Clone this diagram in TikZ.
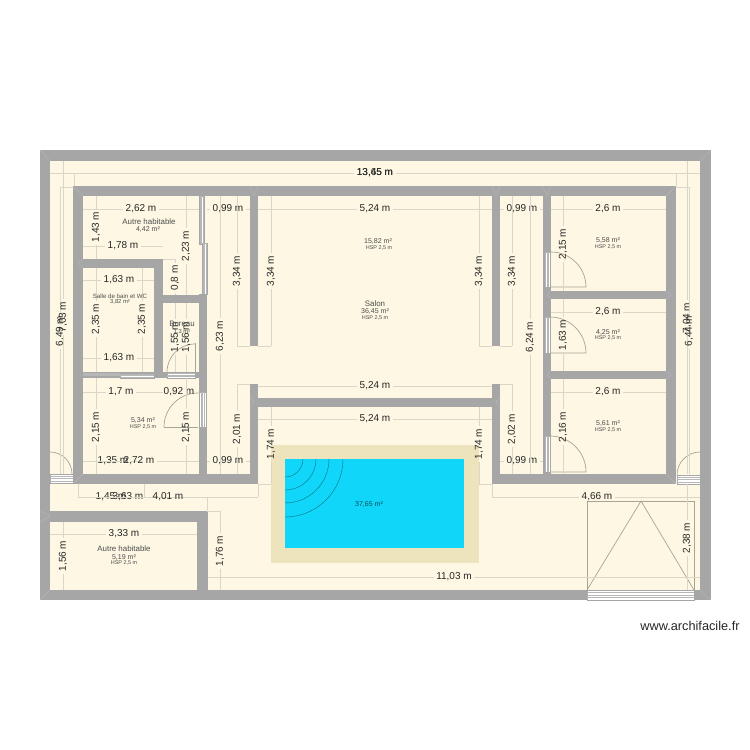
\documentclass[tikz,border=0pt]{standalone}
\usepackage{fontspec}
\setmainfont{Liberation Sans}
\usepackage{xcolor}
\usepackage{tikz}
\definecolor{wallgray}{HTML}{A6A6A6}
\definecolor{wallmark}{HTML}{B6B6B6}
\definecolor{floorcream}{HTML}{FDF7E3}
\definecolor{dimgray}{HTML}{DAD7C8}
\definecolor{poolwater}{HTML}{10D6FA}
\definecolor{poolrim}{HTML}{EDE4BE}
\definecolor{doorgray}{HTML}{A8A498}
\tikzset{
	wall/.style={fill=wallgray, draw=none},
	wallcut/.style={draw=wallmark, line width=0.25pt},
	dimline/.style={draw=dimgray, line width=0.45pt},
	dimlabel/.style={font=\fontsize{5.7}{6}\selectfont, text=black!85, inner sep=1.3pt},
	roomname/.style={font=\fontsize{4.5}{5}\selectfont, text=black!70, inner sep=0pt},
	roomarea/.style={font=\fontsize{4}{5}\selectfont, text=black!70, inner sep=0pt},
	roomhsp/.style={font=\fontsize{3.1}{4}\selectfont, text=black!70, inner sep=0pt},
	winbox/.style={fill=white, draw=wallgray, line width=0.25pt},
	winbar/.style={draw=wallgray!80, line width=0.5pt},
	doorline/.style={draw=doorgray, line width=0.4pt},
}
\newcommand{\DimH}[6]{
	\node[dimlabel] (#1) at (#5,#4) {#6};
	\coordinate (#1-a) at (#2,#4);
	\coordinate (#1-b) at (#3,#4);
	\draw[dimline] (#1-a) -- (#1);
	\draw[dimline] (#1) -- (#1-b);
}
\newcommand{\DimV}[6]{
	\node[dimlabel, rotate=90] (#1) at (#4,#5) {#6};
	\coordinate (#1-a) at (#4,#2);
	\coordinate (#1-b) at (#4,#3);
	\draw[dimline] (#1-a) -- (#1);
	\draw[dimline] (#1) -- (#1-b);
}
\newcommand{\WinH}[4]{
	\path[winbox] (#1,#3) rectangle (#2,#4);
	\pgfmathsetmacro{\winmid}{(#3+#4)/2}
	\pgfmathsetmacro{\winlow}{(#3+\winmid)/2}
	\pgfmathsetmacro{\winupp}{(#4+\winmid)/2}
	\draw[winbar] (#1,\winmid) -- (#2,\winmid);
	\draw[wallcut] (#1,\winlow) -- (#2,\winlow);
	\draw[wallcut] (#1,\winupp) -- (#2,\winupp);
}
\newcommand{\WinV}[4]{
	\path[winbox] (#1,#3) rectangle (#2,#4);
	\pgfmathsetmacro{\winmid}{(#1+#2)/2}
	\pgfmathsetmacro{\winlow}{(#1+\winmid)/2}
	\pgfmathsetmacro{\winupp}{(#2+\winmid)/2}
	\draw[winbar] (\winmid,#3) -- (\winmid,#4);
	\draw[wallcut] (\winlow,#3) -- (\winlow,#4);
	\draw[wallcut] (\winupp,#3) -- (\winupp,#4);
}
\begin{document}
\begin{tikzpicture}[x=0.02cm, y=-0.02cm]
	\useasboundingbox (0,0) rectangle (750,750);
	\fill[wall] (40,150) rectangle (711,600);
	\fill[floorcream] (50,161) rectangle (700,590);
	\fill[wall] (73,186) rectangle (676,196);
	\fill[wall] (73,186) rectangle (83,484);
	\fill[wall] (666,186) rectangle (676,484);
	\fill[wall] (73,474) rectangle (258,484);
	\fill[wall] (492,474) rectangle (676,484);
	\fill[wall] (250,196) rectangle (258,346);
	\fill[wall] (492,196) rectangle (500,346);
	\fill[wall] (250,384) rectangle (258,484);
	\fill[wall] (492,384) rectangle (500,484);
	\fill[wall] (250,398) rectangle (500,407);
	\fill[wall] (543,196) rectangle (551,474);
	\fill[wall] (551,291) rectangle (666,299);
	\fill[wall] (551,371) rectangle (666,379);
	\fill[wall] (83,259) rectangle (163,268);
	\fill[wall] (154,259) rectangle (163,378);
	\fill[wall] (83,372) rectangle (207,378);
	\fill[wall] (199,294) rectangle (207,484);
	\fill[wall] (163,295) rectangle (207,303);
	\fill[wall] (50,511) rectangle (208,522);
	\fill[wall] (197,511) rectangle (208,590);
	\draw[wallcut] (40,150) -- (50,161);
	\draw[wallcut] (711,150) -- (700,161);
	\draw[wallcut] (40,600) -- (50,590);
	\draw[wallcut] (711,600) -- (700,590);
	\draw[wallcut] (73,186) -- (83,196);
	\draw[wallcut] (676,186) -- (666,196);
	\draw[wallcut] (73,484) -- (83,474);
	\draw[wallcut] (676,484) -- (666,474);
	\draw[wallcut] (250,186) -- (254,196) -- (258,186);
	\draw[wallcut] (492,186) -- (496,196) -- (500,186);
	\draw[wallcut] (543,186) -- (547,196) -- (551,186);
	\draw[wallcut] (40,511) -- (50,516) -- (40,522);
	\draw[wallcut] (83,259) -- (78,263) -- (83,268);
	\draw[wallcut] (666,291) -- (671,295) -- (666,299);
	\draw[wallcut] (666,371) -- (671,375) -- (666,379);
	\draw[wallcut] (551,291) -- (547,295) -- (551,299);
	\draw[wallcut] (551,371) -- (547,375) -- (551,379);
	\draw[wallcut] (250,398) -- (254,402) -- (250,407);
	\draw[wallcut] (500,398) -- (496,402) -- (500,407);
	\path[fill=poolrim] (271,445) rectangle (479,563);
	\path[fill=poolwater] (285,459) rectangle (464,548);
	\draw[poolwater!55!black, line width=0.25pt] (303,459) arc (0:90:18);
	\draw[poolwater!55!black, line width=0.25pt] (316,459) arc (0:90:31);
	\draw[poolwater!55!black, line width=0.25pt] (329,459) arc (0:90:44);
	\draw[poolwater!55!black, line width=0.25pt] (343,459) arc (0:90:58);
	\WinV{199}{204}{196}{244}
	\WinV{202}{207}{243}{294}
	\WinH{83}{120}{372}{376}
	\WinH{120}{154}{373}{378}
	\WinH{167}{195}{372}{378}
	\WinV{199}{206}{392}{427}
	\WinV{544}{550}{252}{287}
	\WinV{544}{550}{317}{353}
	\WinV{544}{550}{436}{472}
	\WinH{50}{73}{474}{483}
	\WinH{677}{700}{475}{484}
	\WinH{587}{694}{590}{600}
	\draw[doorline] (195,372) -- (195,343);
	\draw[doorline] (167,372) arc (180:270:28);
	\draw[doorline] (198,427) -- (164,427);
	\draw[doorline] (164,427) arc (180:270:34);
	\draw[doorline] (551,287) -- (586,287) arc (0:-90:35);
	\draw[doorline] (551,353) -- (586,353) arc (0:-90:36);
	\draw[doorline] (551,472) -- (586,472) arc (0:-90:36);
	\draw[doorline] (50,452) arc (-90:0:22);
	\draw[doorline] (677,475) arc (180:270:23);
	\draw[doorline] (587,590) -- (587,501) -- (694,501) -- (694,590);
	\draw[doorline] (587,590) -- (641,501) -- (694,590);
	\DimH{top1}{50}{700}{173}{375}{13,65 m}
	\DimH{top2}{74}{676}{173}{375}{13,45 m}
	\draw[dimline] (top2-a) -- ++(0,13);
	\draw[dimline] (top2-b) -- ++(0,13);
	\DimH{bedA}{83}{199}{209}{141}{2,62 m}
	\DimH{halA}{207}{250}{209}{228}{0,99 m}
	\DimH{salA}{258}{492}{209}{375}{5,24 m}
	\DimH{halB}{500}{543}{209}{522}{0,99 m}
	\DimH{romA}{551}{666}{209}{608}{2,6 m}
	\DimH{romB}{551}{666}{312}{608}{2,6 m}
	\DimH{romC}{551}{666}{392}{608}{2,6 m}
	\DimH{bedB}{83}{163}{246}{123}{1,78 m}
	\DimH{batA}{83}{154}{280}{119}{1,63 m}
	\DimH{batB}{83}{154}{358}{119}{1,63 m}
	\DimH{kitA}{83}{163}{392}{121}{1,7 m}
	\DimH{kitB}{163}{199}{392}{179}{0,92 m}
	\DimH{kitC}{83}{143}{461}{113}{1,35 m}
	\DimH{kitD}{83}{199}{461}{139}{2,72 m}
	\DimH{halC}{207}{250}{461}{228}{0,99 m}
	\DimH{halD}{500}{543}{461}{522}{0,99 m}
	\DimH{outA}{78}{144}{497}{111}{1,45 m}
	\DimH{outB}{78}{207}{497}{128}{3,63 m}
	\DimH{outC}{78}{258}{497}{168}{4,01 m}
	\draw[dimline] (outA-a) -- ++(0,-13);
	\draw[dimline] (outA-b) -- ++(0,-13);
	\draw[dimline] (outB-b) -- ++(0,14);
	\draw[dimline] (outC-b) -- ++(0,-13);
	\DimH{stoA}{50}{197}{534}{124}{3,33 m}
	\DimH{garA}{492}{700}{497}{597}{4,66 m}
	\draw[dimline] (garA-a) -- ++(0,-13);
	\DimH{garB}{208}{700}{577}{454}{11,03 m}
	\DimH{salB}{258}{492}{386}{375}{5,24 m}
	\DimH{salC}{258}{492}{419}{375}{5,24 m}
	\DimV{lefA}{187}{474}{60}{331}{6,49 m}
	\DimV{lefB}{161}{474}{63}{317}{7,03 m}
	\draw[dimline] (lefA-a) -- ++(13,0);
	\DimV{bedC}{196}{259}{96}{227}{1,43 m}
	\DimV{bedD}{196}{295}{186}{246}{2,23 m}
	\DimV{bedE}{259}{295}{175}{278}{0,8 m}
	\draw[dimline] (bedE-a) -- ++(-12,0);
	\DimV{halE}{196}{346}{237}{271}{3,34 m}
	\draw[dimline] (halE-b) -- ++(13,0);
	\DimV{batC}{268}{372}{96}{319}{2,35 m}
	\DimV{batD}{268}{372}{142}{319}{2,35 m}
	\DimV{burA}{303}{372}{175}{337}{1,55 m}
	\DimV{burB}{303}{372}{186}{337}{1,56 m}
	\DimV{halF}{196}{474}{220}{336}{6,23 m}
	\DimV{salD}{196}{346}{271}{271}{3,34 m}
	\draw[dimline] (salD-b) -- ++(-13,0);
	\DimV{salE}{196}{346}{479}{271}{3,34 m}
	\draw[dimline] (salE-b) -- ++(13,0);
	\DimV{halG}{196}{346}{512}{271}{3,34 m}
	\draw[dimline] (halG-b) -- ++(-12,0);
	\DimV{halH}{196}{474}{530}{337}{6,24 m}
	\DimV{romD}{196}{291}{563}{244}{2,15 m}
	\DimV{romE}{299}{371}{563}{335}{1,63 m}
	\DimV{romF}{379}{474}{563}{427}{2,16 m}
	\DimV{rigA}{161}{474}{687}{318}{7,04 m}
	\DimV{rigB}{187}{474}{689}{331}{6,44 m}
	\draw[dimline] (rigB-a) -- ++(-13,0);
	\DimV{kitE}{378}{474}{96}{427}{2,15 m}
	\DimV{kitF}{378}{474}{186}{427}{2,15 m}
	\DimV{halI}{384}{474}{237}{429}{2,01 m}
	\draw[dimline] (halI-a) -- ++(13,0);
	\DimV{halJ}{384}{474}{512}{429}{2,02 m}
	\draw[dimline] (halJ-a) -- ++(-12,0);
	\DimV{pooA}{407}{484}{271}{444}{1,74 m}
	\draw[dimline] (pooA-b) -- ++(-13,0);
	\DimV{pooB}{407}{484}{479}{444}{1,74 m}
	\draw[dimline] (pooB-b) -- ++(13,0);
	\DimV{stoB}{522}{590}{63}{556}{1,56 m}
	\DimV{cenA}{511}{590}{220}{551}{1,76 m}
	\draw[dimline] (cenA-a) -- ++(-13,0);
	\DimV{garC}{484}{590}{687}{538}{2,38 m}
	\node[roomname] (bedname) at (149,222) {Autre habitable};
	\node[roomarea] (bedarea) at (148,229) {4,42 m²};
	\node[font=\fontsize{3.5}{4}\selectfont, text=black!70, inner sep=0pt] (batname) at (120,296) {Salle de bain et WC};
	\node[font=\fontsize{3.3}{4}\selectfont, text=black!70, inner sep=0pt] (batarea) at (120,301.5) {3,82 m²};
	\node[roomname] (burname) at (182,324) {Bureau};
	\node[font=\fontsize{3.3}{4}\selectfont, text=black!70, inner sep=0pt] (burarea) at (182,332) {1,3 m²};
	\node[roomarea] (kitarea) at (143,420) {5,34 m²};
	\node[roomhsp] (kithsp) at (143,427) {HSP 2,5 m};
	\node[roomname] (stoname) at (124,549) {Autre habitable};
	\node[roomarea] (stoarea) at (124,557) {5,19 m²};
	\node[roomhsp] (stohsp) at (124,563) {HSP 2,5 m};
	\node[roomarea] (upparea) at (378,241) {15,82 m²};
	\node[roomhsp] (upphsp) at (379,248) {HSP 2,5 m};
	\node[roomname] (salname) at (375,304) {Salon};
	\node[roomarea] (salarea) at (375,311) {36,45 m²};
	\node[roomhsp] (salhsp) at (375,318) {HSP 2,5 m};
	\node[roomarea] (romaarea) at (608,240) {5,58 m²};
	\node[roomhsp] (romahsp) at (608,247) {HSP 2,5 m};
	\node[roomarea] (rombarea) at (608,332) {4,25 m²};
	\node[roomhsp] (rombhsp) at (608,338) {HSP 2,5 m};
	\node[roomarea] (romcarea) at (608,423) {5,61 m²};
	\node[roomhsp] (romchsp) at (608,430) {HSP 2,5 m};
	\node[roomarea, text=poolwater!35!black] (poolarea) at (369,504) {37,65 m²};
	\node[font=\fontsize{7.25}{8}\selectfont, text=black!85, inner sep=0pt] (sitemark) at (690,626) {www.archifacile.fr};
\end{tikzpicture}
\end{document}
